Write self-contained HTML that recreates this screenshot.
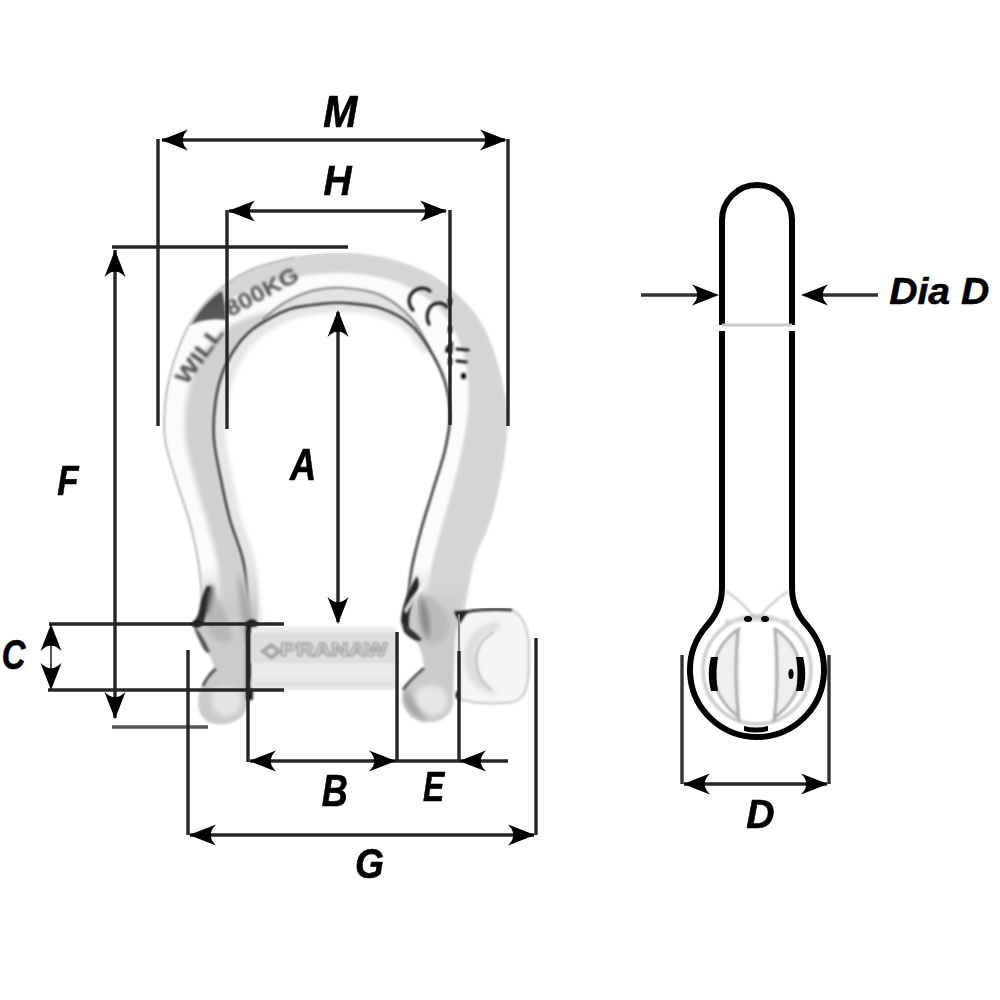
<!DOCTYPE html>
<html><head><meta charset="utf-8">
<style>
html,body{margin:0;padding:0;background:#fff;width:1000px;height:1000px;overflow:hidden}
svg{display:block}
.lbl{font-family:"Liberation Sans",sans-serif;font-weight:bold;font-style:italic;fill:#000}
</style></head>
<body>
<svg width="1000" height="1000" viewBox="0 0 1000 1000">
<defs>
  <path id="ah" d="M0,0 L27,-10.5 Q21,-4 22,0 Q21,4 27,10.5 Z"/>
  <filter id="soft" x="-20%" y="-20%" width="140%" height="140%"><feGaussianBlur stdDeviation="0.9"/></filter>
  <filter id="soft5" x="-5%" y="-5%" width="110%" height="110%"><feGaussianBlur stdDeviation="0.45"/></filter>
  <filter id="soft3" x="-20%" y="-20%" width="140%" height="140%"><feGaussianBlur stdDeviation="1.5"/></filter>
  <filter id="soft2" x="-20%" y="-20%" width="140%" height="140%"><feGaussianBlur stdDeviation="2.5"/></filter>
  <filter id="soft4" x="-20%" y="-20%" width="140%" height="140%"><feGaussianBlur stdDeviation="4"/></filter>
  <linearGradient id="earL" x1="0" y1="565" x2="0" y2="610" gradientUnits="userSpaceOnUse"><stop offset="0" stop-color="#d4d4d4" stop-opacity="0"/><stop offset="1" stop-color="#cbcbcb" stop-opacity="1"/></linearGradient>
  <linearGradient id="earR" x1="0" y1="565" x2="0" y2="610" gradientUnits="userSpaceOnUse"><stop offset="0" stop-color="#d6d6d6" stop-opacity="0"/><stop offset="1" stop-color="#cbcbcb" stop-opacity="1"/></linearGradient>
  <clipPath id="bodyclip"><path d="M201.0,628.0 C201.2,623.3 202.5,611.3 202.0,600.0 C201.5,588.7 200.2,573.3 198.0,560.0 C195.8,546.7 192.7,533.3 189.0,520.0 C185.3,506.7 180.0,493.3 176.0,480.0 C172.0,466.7 166.8,452.5 165.0,440.0 C163.2,427.5 164.2,415.8 165.0,405.0 C165.8,394.2 167.7,384.7 170.0,375.0 C172.3,365.3 175.3,356.2 179.0,347.0 C182.7,337.8 186.0,329.0 192.0,320.0 C198.0,311.0 205.3,301.3 215.0,293.0 C224.7,284.7 236.7,276.0 250.0,270.0 C263.3,264.0 280.0,259.8 295.0,257.0 C310.0,254.2 325.0,252.8 340.0,253.0 C355.0,253.2 370.8,254.8 385.0,258.0 C399.2,261.2 413.3,266.2 425.0,272.0 C436.7,277.8 445.5,284.2 455.0,293.0 C464.5,301.8 474.7,312.2 482.0,325.0 C489.3,337.8 494.8,354.2 499.0,370.0 C503.2,385.8 506.5,403.3 507.0,420.0 C507.5,436.7 504.8,453.3 502.0,470.0 C499.2,486.7 494.7,505.0 490.0,520.0 C485.3,535.0 478.0,546.7 474.0,560.0 C470.0,573.3 468.2,588.7 466.0,600.0 C463.8,611.3 461.8,623.3 461.0,628.0 L406.0,628.0 C406.3,623.3 407.0,610.2 408.0,600.0 C409.0,589.8 409.8,578.7 412.0,567.0 C414.2,555.3 417.5,542.8 421.0,530.0 C424.5,517.2 429.0,503.3 433.0,490.0 C437.0,476.7 442.2,462.3 445.0,450.0 C447.8,437.7 450.0,427.3 450.0,416.0 C450.0,404.7 448.3,393.0 445.0,382.0 C441.7,371.0 435.8,359.7 430.0,350.0 C424.2,340.3 418.3,331.0 410.0,324.0 C401.7,317.0 390.8,311.5 380.0,308.0 C369.2,304.5 355.0,303.7 345.0,303.0 C335.0,302.3 329.2,303.0 320.0,304.0 C310.8,305.0 299.2,306.2 290.0,309.0 C280.8,311.8 272.0,317.0 265.0,321.0 C258.0,325.0 253.2,328.2 248.0,333.0 C242.8,337.8 238.3,343.2 234.0,350.0 C229.7,356.8 225.2,364.8 222.0,374.0 C218.8,383.2 216.3,394.0 215.0,405.0 C213.7,416.0 213.0,427.5 214.0,440.0 C215.0,452.5 218.3,466.7 221.0,480.0 C223.7,493.3 226.3,506.7 230.0,520.0 C233.7,533.3 240.0,546.7 243.0,560.0 C246.0,573.3 246.8,588.7 248.0,600.0 C249.2,611.3 249.7,623.3 250.0,628.0 Z" fill-rule="evenodd"/></clipPath>
</defs>

<!-- ===== SHACKLE BODY ===== -->
<g id="shackle">
  <path d="M250.0,628.0 C249.7,623.3 249.2,611.3 248.0,600.0 C246.8,588.7 246.0,573.3 243.0,560.0 C240.0,546.7 233.7,533.3 230.0,520.0 C226.3,506.7 223.7,493.3 221.0,480.0 C218.3,466.7 215.0,452.5 214.0,440.0 C213.0,427.5 213.7,416.0 215.0,405.0 C216.3,394.0 218.8,383.2 222.0,374.0 C225.2,364.8 229.7,356.8 234.0,350.0 C238.3,343.2 242.8,337.8 248.0,333.0 C253.2,328.2 258.0,325.0 265.0,321.0 C272.0,317.0 280.8,311.8 290.0,309.0 C299.2,306.2 310.8,305.0 320.0,304.0 C329.2,303.0 335.0,302.3 345.0,303.0 C355.0,303.7 369.2,304.5 380.0,308.0 C390.8,311.5 401.7,317.0 410.0,324.0 C418.3,331.0 426.7,345.7 430.0,350.0" fill="none" stroke="#e4e4e4" stroke-width="16" filter="url(#soft2)"/>
  <path d="M250.0,628.0 C249.7,623.3 249.2,611.3 248.0,600.0 C246.8,588.7 246.0,573.3 243.0,560.0 C240.0,546.7 233.7,533.3 230.0,520.0 C226.3,506.7 223.7,493.3 221.0,480.0 C218.3,466.7 215.0,452.5 214.0,440.0 C213.0,427.5 213.7,416.0 215.0,405.0 C216.3,394.0 218.8,383.2 222.0,374.0 C225.2,364.8 229.7,356.8 234.0,350.0 C238.3,343.2 242.8,337.8 248.0,333.0 C253.2,328.2 258.0,325.0 265.0,321.0 C272.0,317.0 280.8,311.8 290.0,309.0 C299.2,306.2 310.8,305.0 320.0,304.0 C329.2,303.0 335.0,302.3 345.0,303.0 C355.0,303.7 369.2,304.5 380.0,308.0 C390.8,311.5 401.7,317.0 410.0,324.0 C418.3,331.0 426.7,345.7 430.0,350.0" transform="translate(6,2)" fill="none" stroke="#e6e6e6" stroke-width="12" filter="url(#soft2)"/>
  <g clip-path="url(#bodyclip)">
    <path d="M201.0,628.0 C201.2,623.3 202.5,611.3 202.0,600.0 C201.5,588.7 200.2,573.3 198.0,560.0 C195.8,546.7 192.7,533.3 189.0,520.0 C185.3,506.7 180.0,493.3 176.0,480.0 C172.0,466.7 166.8,452.5 165.0,440.0 C163.2,427.5 164.2,415.8 165.0,405.0 C165.8,394.2 167.7,384.7 170.0,375.0 C172.3,365.3 175.3,356.2 179.0,347.0 C182.7,337.8 186.0,329.0 192.0,320.0 C198.0,311.0 205.3,301.3 215.0,293.0 C224.7,284.7 236.7,276.0 250.0,270.0 C263.3,264.0 280.0,259.8 295.0,257.0 C310.0,254.2 325.0,252.8 340.0,253.0 C355.0,253.2 370.8,254.8 385.0,258.0 C399.2,261.2 413.3,266.2 425.0,272.0 C436.7,277.8 445.5,284.2 455.0,293.0 C464.5,301.8 474.7,312.2 482.0,325.0 C489.3,337.8 494.8,354.2 499.0,370.0 C503.2,385.8 506.5,403.3 507.0,420.0 C507.5,436.7 504.8,453.3 502.0,470.0 C499.2,486.7 494.7,505.0 490.0,520.0 C485.3,535.0 478.0,546.7 474.0,560.0 C470.0,573.3 468.2,588.7 466.0,600.0 C463.8,611.3 461.8,623.3 461.0,628.0 L406.0,628.0 C406.3,623.3 407.0,610.2 408.0,600.0 C409.0,589.8 409.8,578.7 412.0,567.0 C414.2,555.3 417.5,542.8 421.0,530.0 C424.5,517.2 429.0,503.3 433.0,490.0 C437.0,476.7 442.2,462.3 445.0,450.0 C447.8,437.7 450.0,427.3 450.0,416.0 C450.0,404.7 448.3,393.0 445.0,382.0 C441.7,371.0 435.8,359.7 430.0,350.0 C424.2,340.3 418.3,331.0 410.0,324.0 C401.7,317.0 390.8,311.5 380.0,308.0 C369.2,304.5 355.0,303.7 345.0,303.0 C335.0,302.3 329.2,303.0 320.0,304.0 C310.8,305.0 299.2,306.2 290.0,309.0 C280.8,311.8 272.0,317.0 265.0,321.0 C258.0,325.0 253.2,328.2 248.0,333.0 C242.8,337.8 238.3,343.2 234.0,350.0 C229.7,356.8 225.2,364.8 222.0,374.0 C218.8,383.2 216.3,394.0 215.0,405.0 C213.7,416.0 213.0,427.5 214.0,440.0 C215.0,452.5 218.3,466.7 221.0,480.0 C223.7,493.3 226.3,506.7 230.0,520.0 C233.7,533.3 240.0,546.7 243.0,560.0 C246.0,573.3 246.8,588.7 248.0,600.0 C249.2,611.3 249.7,623.3 250.0,628.0 Z" fill="#fbfbfb" fill-rule="evenodd"/>
    <path d="M192.0,320.0 C195.8,315.5 205.3,301.3 215.0,293.0 C224.7,284.7 236.7,276.0 250.0,270.0 C263.3,264.0 280.0,259.8 295.0,257.0 C310.0,254.2 325.0,252.8 340.0,253.0 C355.0,253.2 370.8,254.8 385.0,258.0 C399.2,261.2 413.3,266.2 425.0,272.0 C436.7,277.8 445.5,284.2 455.0,293.0 C464.5,301.8 474.7,312.2 482.0,325.0 C489.3,337.8 494.8,354.2 499.0,370.0 C503.2,385.8 506.5,403.3 507.0,420.0 C507.5,436.7 504.8,453.3 502.0,470.0 C499.2,486.7 494.7,505.0 490.0,520.0 C485.3,535.0 478.0,546.7 474.0,560.0 C470.0,573.3 468.2,588.7 466.0,600.0 C463.8,611.3 461.8,623.3 461.0,628.0 L422.5,628.0 C423.2,623.3 425.0,610.5 426.6,600.0 C428.1,589.5 429.3,576.9 431.8,564.8 C434.4,552.6 438.1,540.5 441.7,527.0 C445.3,513.5 450.0,498.3 453.7,484.0 C457.4,469.7 461.1,455.2 463.6,441.0 C466.1,426.8 468.6,413.1 468.6,398.5 C468.6,383.9 467.4,367.3 463.5,353.5 C459.6,339.7 452.4,325.9 445.0,315.8 C437.6,305.7 429.3,299.1 419.0,292.8 C408.7,286.5 395.8,281.3 383.0,278.0 C370.2,274.7 355.0,273.4 342.0,273.0 C329.0,272.6 317.8,273.8 305.0,275.8 C292.2,277.8 278.1,280.8 265.2,284.8 C252.3,288.9 239.7,294.1 227.5,300.0 C215.3,305.9 197.9,316.7 192.0,320.0 Z" fill="#d5d5d5" filter="url(#soft3)"/>
    <g filter="url(#soft2)">
      <path d="M221.6,628.0 C221.5,623.3 222.1,611.3 221.3,600.0 C220.5,588.7 219.4,573.3 216.9,560.0 C214.4,546.7 209.9,533.3 206.2,520.0 C202.6,506.7 198.3,493.3 194.9,480.0 C191.5,466.7 187.1,452.5 185.6,440.0 C184.1,427.5 184.7,415.9 186.0,405.0 C187.3,394.1 190.0,384.0 193.4,374.6 C196.8,365.1 200.9,356.2 206.5,348.5 C212.1,340.8 218.6,333.6 226.7,328.1 C234.8,322.5 244.5,318.6 255.0,315.4 C265.5,312.2 284.2,310.1 290.0,309.0 L290.0,309.0 C285.8,311.0 272.0,317.0 265.0,321.0 C258.0,325.0 253.2,328.2 248.0,333.0 C242.8,337.8 238.3,343.2 234.0,350.0 C229.7,356.8 225.2,364.8 222.0,374.0 C218.8,383.2 216.3,394.0 215.0,405.0 C213.7,416.0 213.0,427.5 214.0,440.0 C215.0,452.5 218.3,466.7 221.0,480.0 C223.7,493.3 226.3,506.7 230.0,520.0 C233.7,533.3 240.0,546.7 243.0,560.0 C246.0,573.3 246.8,588.7 248.0,600.0 C249.2,611.3 249.7,623.3 250.0,628.0 Z" fill="#d0d0d0"/>
      <path d="M262.5,319.6 C266.1,316.9 275.6,307.9 284.0,303.1 C292.4,298.4 303.1,293.4 313.0,290.8 C322.9,288.3 332.1,287.2 343.5,288.0 C354.9,288.8 369.9,290.4 381.2,295.5 C392.6,300.6 403.4,309.7 411.5,318.8 C419.6,327.9 426.9,344.8 430.0,350.0 L430.0,350.0 C426.7,345.7 418.3,331.0 410.0,324.0 C401.7,317.0 390.8,311.5 380.0,308.0 C369.2,304.5 355.0,303.7 345.0,303.0 C335.0,302.3 329.2,303.0 320.0,304.0 C310.8,305.0 299.2,306.2 290.0,309.0 C280.8,311.8 269.2,319.0 265.0,321.0 Z" fill="#e2e2e2"/>
    </g>
    <path d="M262.5,319.6 C266.1,316.9 275.6,307.9 284.0,303.1 C292.4,298.4 303.1,293.4 313.0,290.8 C322.9,288.3 332.1,287.2 343.5,288.0 C354.9,288.8 369.9,290.4 381.2,295.5 C392.6,300.6 403.4,309.7 411.5,318.8 C419.6,327.9 426.9,344.8 430.0,350.0" fill="none" stroke="#858585" stroke-width="2.2" filter="url(#soft)"/>
  </g>
  <path d="M250.0,628.0 C249.7,623.3 249.2,611.3 248.0,600.0 C246.8,588.7 246.0,573.3 243.0,560.0 C240.0,546.7 233.7,533.3 230.0,520.0 C226.3,506.7 223.7,493.3 221.0,480.0 C218.3,466.7 215.0,452.5 214.0,440.0 C213.0,427.5 213.7,416.0 215.0,405.0 C216.3,394.0 218.8,383.2 222.0,374.0 C225.2,364.8 229.7,356.8 234.0,350.0 C238.3,343.2 242.8,337.8 248.0,333.0 C253.2,328.2 258.0,325.0 265.0,321.0 C272.0,317.0 280.8,311.8 290.0,309.0 C299.2,306.2 310.8,305.0 320.0,304.0 C329.2,303.0 335.0,302.3 345.0,303.0 C355.0,303.7 369.2,304.5 380.0,308.0 C390.8,311.5 401.7,317.0 410.0,324.0 C418.3,331.0 424.2,340.3 430.0,350.0 C435.8,359.7 441.7,371.0 445.0,382.0 C448.3,393.0 450.0,404.7 450.0,416.0 C450.0,427.3 447.8,437.7 445.0,450.0 C442.2,462.3 437.0,476.7 433.0,490.0 C429.0,503.3 424.5,517.2 421.0,530.0 C417.5,542.8 414.2,555.3 412.0,567.0 C409.8,578.7 409.0,589.8 408.0,600.0 C407.0,610.2 406.3,623.3 406.0,628.0" fill="none" stroke="#3e3e3e" stroke-width="2.6" filter="url(#soft)"/>
  <path d="M201.0,628.0 C201.2,623.3 202.5,611.3 202.0,600.0 C201.5,588.7 200.2,573.3 198.0,560.0 C195.8,546.7 192.7,533.3 189.0,520.0 C185.3,506.7 180.0,493.3 176.0,480.0 C172.0,466.7 166.8,452.5 165.0,440.0 C163.2,427.5 164.2,415.8 165.0,405.0 C165.8,394.2 167.7,384.7 170.0,375.0 C172.3,365.3 175.3,356.2 179.0,347.0 C182.7,337.8 186.0,329.0 192.0,320.0 C198.0,311.0 205.3,301.3 215.0,293.0 C224.7,284.7 236.7,276.0 250.0,270.0 C263.3,264.0 287.5,259.2 295.0,257.0" fill="none" stroke="#aaaaaa" stroke-width="1.6" filter="url(#soft)"/>
  <path d="M295.0,257.0 C302.5,256.3 325.0,252.8 340.0,253.0 C355.0,253.2 370.8,254.8 385.0,258.0 C399.2,261.2 413.3,266.2 425.0,272.0 C436.7,277.8 445.5,284.2 455.0,293.0 C464.5,301.8 474.7,312.2 482.0,325.0 C489.3,337.8 494.8,354.2 499.0,370.0 C503.2,385.8 506.5,403.3 507.0,420.0 C507.5,436.7 504.8,453.3 502.0,470.0 C499.2,486.7 494.7,505.0 490.0,520.0 C485.3,535.0 478.0,546.7 474.0,560.0 C470.0,573.3 468.2,588.7 466.0,600.0 C463.8,611.3 461.8,623.3 461.0,628.0" fill="none" stroke="#cccccc" stroke-width="1.2" filter="url(#soft)"/>
  <!-- dark shading top-left -->
  <path fill="#3a3a3a" filter="url(#soft)" opacity="0.85" d="M191,325 C200,310 210,298 222,291 C224,300 226,310 226,320 C215,318 200,320 191,325 Z"/>

  <!-- engravings -->
  <g fill="#4a4a4a" filter="url(#soft3)" font-family="Liberation Sans" font-weight="bold">
    <text transform="translate(186,386) rotate(-54)" font-size="22" textLength="66" lengthAdjust="spacingAndGlyphs">WILL</text>
    <text transform="translate(230,317) rotate(-28)" font-size="22" textLength="80" lengthAdjust="spacingAndGlyphs">800KG</text>
  </g>
  <g fill="none" stroke="#1e1e1e" stroke-width="3.2" stroke-linecap="round" filter="url(#soft)">
    <path d="M430,291 C424,286 414,288 410,296 C408,302 410,307 413,310"/>
    <path d="M447,307 C442,301 433,302 429,309 C426,315 427,320 429,324"/>
    <path d="M457,349 L468,350 M457,361 L466,362"/>
  </g>
  <g fill="#111" filter="url(#soft)">
    <path d="M446,347 L453,341 L452,354 L445,352 Z"/>
    <ellipse cx="463.5" cy="376" rx="2.6" ry="3.2"/>
    <rect x="448" y="298" width="4" height="7"/>
    <rect x="448" y="326" width="4" height="7"/>
    <rect x="448" y="358" width="4" height="7"/>
  </g>
  <!-- left ear -->
  <path fill="url(#earL)" filter="url(#soft)" d="M196,565 C202,575 203,590 202,600 C202,610 198,618 193,624 C198,634 206,646 214,666 C209,674 204,680 201,688 C196,700 197,715 208,722 C222,727 238,724 245,712 L250,700 L258,624 C258,600 257,580 256,565 Z"/>
  <path fill="#b8b8b8" filter="url(#soft2)" d="M210,590 C222,600 230,620 232,640 C222,645 212,640 208,630 C205,615 205,600 210,590 Z"/>
  <path fill="#e4e4e4" filter="url(#soft2)" d="M214,690 C222,684 238,686 242,698 C242,712 232,718 222,716 C212,712 208,700 214,690 Z"/>
  <path fill="#a8a8a8" filter="url(#soft2)" d="M238,572 C246,590 252,612 254,634 L246,644 C242,622 238,598 238,572 Z"/>
  <path fill="#3a3a3a" filter="url(#soft2)" opacity="0.8" d="M210,584 C204,594 202,606 200,614 C202,616 206,616 208,612 C210,604 212,596 214,588 Z"/>
  <path fill="#2a2a2a" filter="url(#soft)" d="M207,586 C203,594 201,600 200,608 C199,614 196,619 192,624 C196,628 200,629 204,623 C206,613 206,604 208,596 C209,592 210,589 211,587 Z"/>
  <path fill="#555" filter="url(#soft)" d="M193,624 C199,631 205,640 210,652 C208,654 205,652 203,648 C199,640 195,632 193,624 Z"/>
  <path fill="none" stroke="#4a4a4a" stroke-width="2.6" filter="url(#soft)" d="M216,669 C211,673 206,679 203,686"/>
  <path fill="#1e1e1e" filter="url(#soft)" d="M246,622 L253,622 L253,700 L246,700 Z"/>
  <ellipse cx="252" cy="624" rx="5.5" ry="4.5" fill="#111" filter="url(#soft)"/>
  <ellipse cx="196" cy="624" rx="4" ry="3" fill="#111" filter="url(#soft)"/>
  <!-- right ear -->
  <path fill="url(#earR)" filter="url(#soft)" d="M416,565 C412,580 406,595 402,612 C400,625 405,634 414,640 C420,645 423,655 424,668 C416,676 408,683 403,692 C401,705 406,718 424,722 C440,724 450,716 453,705 L455,640 C457,620 462,602 466,588 L470,565 Z"/>
  <path fill="#bcbcbc" filter="url(#soft2)" d="M418,592 C432,596 446,606 450,624 C448,640 438,646 428,644 C420,636 416,620 418,592 Z"/>
  <path fill="#e6e6e6" filter="url(#soft2)" d="M418,690 C428,682 444,684 448,698 C448,712 438,717 428,715 C418,711 413,700 418,690 Z"/>
  <path fill="#a0a0a0" filter="url(#soft2)" d="M406,686 C412,700 418,712 428,720 C418,720 408,712 404,700 Z"/>
  <path fill="#262626" filter="url(#soft)" d="M401,621 C402,606 408,590 417,576 C420,582 419,590 415,598 C410,608 408,618 409,630 C405,628 402,625 401,621 Z"/>
  <path fill="#333" filter="url(#soft)" d="M402,624 C410,628 417,633 422,640 C418,643 411,639 404,632 Z"/>
  <path fill="#fafafa" filter="url(#soft)" opacity="0.8" d="M404,610 C410,598 418,588 426,582 C422,592 414,602 406,614 Z"/>
  <path fill="#707070" filter="url(#soft2)" opacity="0.7" d="M420,596 C428,606 432,622 428,640 C422,630 418,612 420,596 Z"/>
  <path fill="none" stroke="#4a4a4a" stroke-width="2.6" filter="url(#soft)" d="M424,668 C416,675 408,682 403,690"/>
  <ellipse cx="459" cy="695" rx="3.5" ry="4.5" fill="#111" filter="url(#soft)"/>
  <!-- pin -->
  <rect x="251" y="627" width="145" height="62" fill="#ebebeb" filter="url(#soft)"/>
  <rect x="251" y="633" width="145" height="30" fill="#dedede" filter="url(#soft)"/>
  <rect x="251" y="679" width="145" height="10" fill="#e2e2e2" filter="url(#soft2)"/>
  <line x1="251" y1="629" x2="396" y2="629" stroke="#6a6a6a" stroke-width="3" filter="url(#soft)"/>
  <line x1="251" y1="664" x2="396" y2="664" stroke="#a0a0a0" stroke-width="3" filter="url(#soft)"/>
  <text x="262" y="656" font-family="Liberation Sans" font-weight="bold" font-size="18" fill="#f6f6f6" stroke="#a4a4a4" stroke-width="1.6" textLength="125" lengthAdjust="spacingAndGlyphs" filter="url(#soft)">&#9671;PRANAW</text>
  <!-- nut -->
  <path fill="#f5f5f5" stroke="#cdcdcd" stroke-width="2.5" filter="url(#soft)" d="M458,614 C475,610 500,608 514,611 C526,618 530,636 529,660 C529,685 526,700 512,702 C490,705 472,703 460,699 Z"/>
  <path fill="#dedede" filter="url(#soft2)" d="M500,622 C478,622 464,640 464,658 C464,676 476,694 500,695 C486,688 476,674 476,658 C476,642 486,630 500,630 Z"/>
  <path fill="none" stroke="#c2c2c2" stroke-width="2.4" filter="url(#soft)" d="M494,632 C482,638 476,650 476,660 C476,672 482,684 492,690"/>
  <path fill="none" stroke="#3a3a3a" stroke-width="3" filter="url(#soft)" d="M456,615 C468,610 490,608 512,610"/>
  <path fill="#222" filter="url(#soft)" d="M454,611 L468,611 L460,624 Z"/>
</g>

<!-- ===== DIMENSION LINES ===== -->
<g stroke="#262626" stroke-width="3.4" fill="none" stroke-linecap="butt" filter="url(#soft5)">
  <line x1="162" y1="140" x2="505" y2="140"/>
  <line x1="158" y1="139" x2="158" y2="426"/>
  <line x1="508" y1="139" x2="508" y2="426"/>
  <line x1="229" y1="211" x2="446" y2="211"/>
  <line x1="227" y1="210" x2="227" y2="429"/>
  <line x1="450" y1="210" x2="450" y2="425"/>
  <line x1="112" y1="247" x2="348" y2="247"/>
  <line x1="115" y1="250" x2="115" y2="718"/>
  <line x1="112" y1="727" x2="208" y2="727" stroke="#555"/>
  <line x1="338" y1="312" x2="338" y2="622"/>
  <line x1="49" y1="624" x2="284" y2="624"/>
  <line x1="48" y1="690" x2="284" y2="690"/>
  <line x1="51" y1="640" x2="51" y2="676" stroke="#555" stroke-width="2"/>
  <line x1="248" y1="630" x2="248" y2="762"/>
  <line x1="397" y1="632" x2="397" y2="762"/>
  <line x1="459" y1="651" x2="459" y2="762"/>
  <line x1="459" y1="614" x2="459" y2="651" stroke="#888" stroke-width="2"/>
  <line x1="250" y1="761" x2="508" y2="761"/>
  <line x1="188" y1="650" x2="188" y2="835"/>
  <line x1="536" y1="638" x2="536" y2="835"/>
  <line x1="190" y1="835" x2="534" y2="835"/>
  <line x1="641" y1="295" x2="710" y2="295" stroke="#333"/>
  <line x1="810" y1="295" x2="878" y2="295" stroke="#333"/>
  <line x1="682" y1="655" x2="682" y2="784" stroke="#333"/>
  <line x1="829" y1="655" x2="829" y2="784" stroke="#333"/>
  <line x1="684" y1="784" x2="827" y2="784"/>
</g>
<g fill="#000" filter="url(#soft5)">
  <use href="#ah" transform="translate(161,140)"/>
  <use href="#ah" transform="translate(507,140) scale(-1,1)"/>
  <use href="#ah" transform="translate(228,211)"/>
  <use href="#ah" transform="translate(447,211) scale(-1,1)"/>
  <use href="#ah" transform="translate(115,250) rotate(90)"/>
  <use href="#ah" transform="translate(115,719) rotate(-90)"/>
  <use href="#ah" transform="translate(338,310) rotate(90)"/>
  <use href="#ah" transform="translate(338,624) rotate(-90)"/>
  <use href="#ah" transform="translate(51,624) rotate(90)"/>
  <use href="#ah" transform="translate(51,690) rotate(-90)"/>
  <use href="#ah" transform="translate(249,761)"/>
  <use href="#ah" transform="translate(396,761) scale(-1,1)"/>
  <use href="#ah" transform="translate(459,761)"/>
  <use href="#ah" transform="translate(189,835)"/>
  <use href="#ah" transform="translate(535,835) scale(-1,1)"/>
  <use href="#ah" transform="translate(719,295) scale(-1,1)"/>
  <use href="#ah" transform="translate(801,295)"/>
  <use href="#ah" transform="translate(683,784)"/>
  <use href="#ah" transform="translate(828,784) scale(-1,1)"/>
</g>

<!-- ===== LABELS ===== -->
<text class="lbl" transform="translate(323.34,127.06) scale(0.4088,0.4366)" font-size="100" stroke="#000" stroke-width="1.5" stroke-linejoin="round">M</text>
<text class="lbl" transform="translate(323.61,195.4) scale(0.3892,0.4314)" font-size="100" stroke="#000" stroke-width="1.5" stroke-linejoin="round">H</text>
<text class="lbl" transform="translate(57.15,494.57) scale(0.3492,0.4296)" font-size="100" stroke="#000" stroke-width="1.5" stroke-linejoin="round">F</text>
<text class="lbl" transform="translate(290.09,480.0) scale(0.3623,0.4357)" font-size="100" stroke="#000" stroke-width="1.5" stroke-linejoin="round">A</text>
<text class="lbl" transform="translate(1.69,669.16) scale(0.3286,0.4178)" font-size="100" stroke="#000" stroke-width="1.5" stroke-linejoin="round">C</text>
<text class="lbl" transform="translate(321.64,806.31) scale(0.3603,0.4366)" font-size="100" stroke="#000" stroke-width="1.5" stroke-linejoin="round">B</text>
<text class="lbl" transform="translate(423.08,800.97) scale(0.3188,0.4338)" font-size="100" stroke="#000" stroke-width="1.5" stroke-linejoin="round">E</text>
<text class="lbl" transform="translate(355.01,878.16) scale(0.3732,0.4178)" font-size="100" stroke="#000" stroke-width="1.5" stroke-linejoin="round">G</text>
<text class="lbl" transform="translate(746.21,827.9) scale(0.3913,0.3986)" font-size="100" stroke="#000" stroke-width="1.5" stroke-linejoin="round">D</text>
<text class="lbl" transform="translate(889.21,303.86) scale(0.3913,0.3711)" font-size="100" stroke="#000" stroke-width="1.5" stroke-linejoin="round">Dia D</text>

<!-- ===== PIN PROFILE (right) ===== -->
<g fill="none" stroke="#000" stroke-width="6" filter="url(#soft5)">
  <path d="M722,325 L722,220 A35,35 0 0 1 792,220 L792,325"/>
  <path d="M722,331 L722,588 C722,604 716,616 706,626.6 A67,67 0 1 0 808,626.6 C798,616 792,604 792,588 L792,331"/>
</g>
<line x1="722" y1="325" x2="792" y2="325" stroke="#c8c8c8" stroke-width="3"/>
<g fill="none" filter="url(#soft)">
  <circle cx="757" cy="670" r="54" stroke="#c6c6c6" stroke-width="3.2"/>
  <path d="M740,628 C722,640 714,656 714,672 C714,690 724,706 740,718" fill="#efefef" stroke="#9c9c9c" stroke-width="2.4"/>
  <path d="M774,628 C792,640 800,656 800,672 C800,690 790,706 774,718" fill="#efefef" stroke="#9c9c9c" stroke-width="2.4"/>
  <path d="M738,630 C735,660 735,690 739,722" stroke="#a8a8a8" stroke-width="3"/>
  <path d="M775,630 C778,660 778,690 774,722" stroke="#a8a8a8" stroke-width="3"/>
  <path d="M726,591 C736,598 746,606 755,618" stroke="#c0c0c0" stroke-width="2"/>
  <path d="M788,591 C778,598 768,606 759,618" stroke="#c0c0c0" stroke-width="2"/>
  <path d="M725,622 C745,619 770,619 790,622" stroke="#d4d4d4" stroke-width="3"/>
</g>
<g fill="#000" filter="url(#soft5)">
  <path d="M718,657 L711,657 C708,668 708,680 711,691 L718,691 C716,680 716,668 718,657 Z"/>
  <path d="M796,657 L803,657 C806,668 806,680 803,691 L796,691 C798,680 798,668 796,657 Z"/>
  <path d="M744,726 C752,728 760,728 768,726 L768,731 C760,733 752,733 744,731 Z"/>
  <ellipse cx="748" cy="619" rx="4" ry="3"/>
  <ellipse cx="765" cy="619" rx="4" ry="3"/>
  <ellipse cx="791" cy="674" rx="2.6" ry="5"/>
</g>
</svg>

</body></html>
